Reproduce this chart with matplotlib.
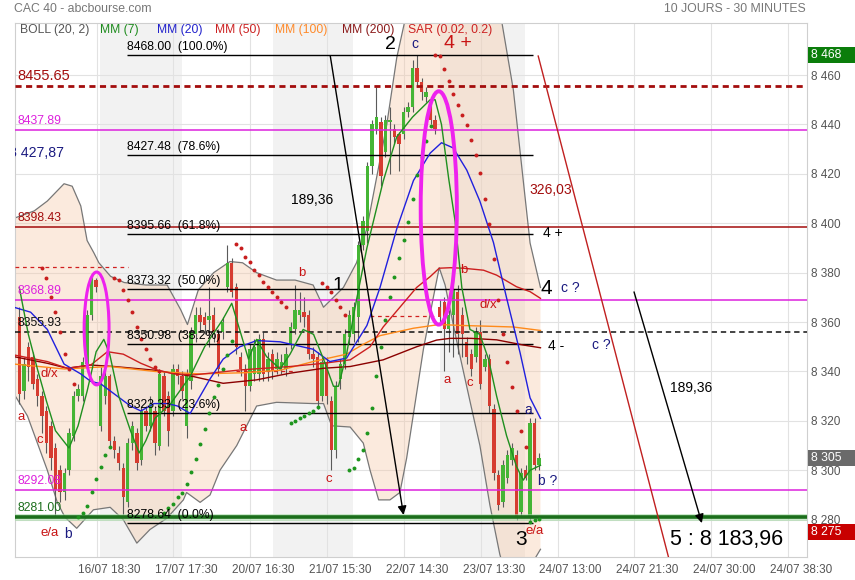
import matplotlib
matplotlib.use("Agg")
import matplotlib.pyplot as plt
import matplotlib.transforms as mtrans
from matplotlib.patches import Ellipse, Rectangle
from matplotlib.text import Text

plt.rcParams["font.family"] = ["Liberation Sans", "DejaVu Sans"]

# ── Candles (30 min bars, index 0..115) ───────────────────────────────────────
opens = [8362, 8332, 8350, 8346, 8337, 8330, 8324, 8318, 8309, 8300,
         8291, 8300, 8314, 8330, 8330, 8343, 8363, 8377, 8318, 8330,
         8338, 8312, 8307, 8301, 8287, 8311, 8315, 8304, 8324, 8318,
         8324, 8310, 8338, 8330, 8324, 8341, 8338, 8318, 8336, 8355,
         8363, 8362, 8361, 8363, 8355, 8356, 8374, 8384, 8374, 8346,
         8341, 8334, 8339, 8339, 8353, 8340, 8347, 8341, 8342, 8341,
         8351, 8357, 8363, 8364, 8363, 8347, 8346, 8330, 8344, 8328,
         8308, 8337, 8343, 8354, 8355, 8362, 8391, 8397, 8423, 8438,
         8441, 8429, 8441, 8438, 8436, 8436, 8445, 8447, 8463, 8457,
         8451, 8449, 8442, 8366, 8368, 8357, 8363, 8372, 8363, 8352,
         8347, 8346, 8356, 8342, 8345, 8325, 8298, 8287, 8297, 8304,
         8306, 8283, 8300, 8281, 8319, 8302]
highs = [8366, 8346, 8352, 8348, 8339, 8332, 8326, 8320, 8311, 8302,
         8301, 8317, 8332, 8335, 8346, 8365, 8379, 8378, 8342, 8340,
         8339, 8314, 8310, 8303, 8313, 8320, 8317, 8326, 8326, 8330,
         8326, 8341, 8340, 8332, 8343, 8343, 8340, 8341, 8358, 8366,
         8366, 8364, 8374, 8366, 8357, 8362, 8391, 8386, 8376, 8348,
         8343, 8351, 8353, 8355, 8356, 8348, 8349, 8348, 8347, 8350,
         8360, 8375, 8372, 8370, 8365, 8350, 8348, 8346, 8346, 8330,
         8336, 8345, 8357, 8365, 8368, 8393, 8403, 8425, 8442, 8455,
         8443, 8444, 8447, 8440, 8437, 8447, 8449, 8466, 8468, 8459,
         8455, 8451, 8444, 8369, 8370, 8365, 8375, 8375, 8366, 8354,
         8349, 8358, 8361, 8347, 8347, 8327, 8300, 8304, 8308, 8311,
         8308, 8301, 8302, 8321, 8321, 8307]
lows = [8327, 8329, 8336, 8333, 8326, 8315, 8307, 8300, 8281, 8287,
        8288, 8298, 8312, 8328, 8328, 8341, 8361, 8372, 8316, 8327,
        8309, 8305, 8300, 8282, 8285, 8308, 8300, 8302, 8316, 8316,
        8306, 8308, 8322, 8310, 8322, 8335, 8329, 8313, 8333, 8352,
        8356, 8355, 8350, 8352, 8338, 8353, 8372, 8370, 8347, 8338,
        8324, 8332, 8336, 8336, 8336, 8336, 8337, 8339, 8339, 8338,
        8349, 8355, 8360, 8358, 8345, 8342, 8325, 8328, 8327, 8300,
        8305, 8333, 8341, 8351, 8352, 8352, 8389, 8392, 8420, 8436,
        8415, 8427, 8420, 8432, 8421, 8434, 8443, 8445, 8455, 8450,
        8449, 8440, 8436, 8360, 8340, 8348, 8346, 8347, 8346, 8343,
        8338, 8344, 8333, 8340, 8323, 8296, 8284, 8285, 8295, 8302,
        8280, 8281, 8296, 8279, 8300, 8300]
closes = [8331, 8343, 8342, 8335, 8330, 8322, 8311, 8305, 8292, 8291,
          8299, 8315, 8330, 8333, 8344, 8363, 8378, 8374, 8338, 8338,
          8312, 8308, 8303, 8289, 8311, 8318, 8303, 8324, 8318, 8327,
          8311, 8339, 8324, 8316, 8341, 8338, 8332, 8339, 8356, 8363,
          8360, 8359, 8362.5, 8356, 8341, 8360, 8384, 8372, 8350, 8341,
          8334, 8349, 8350, 8353, 8339, 8345, 8340, 8345, 8344, 8347,
          8358, 8365, 8365, 8362, 8347, 8345, 8328, 8344, 8330, 8308,
          8334, 8343, 8355, 8363, 8366, 8391, 8401, 8423, 8440, 8443,
          8419, 8442, 8442, 8435, 8432, 8445, 8447, 8463, 8457, 8453,
          8453, 8442, 8438, 8362, 8357, 8363, 8373, 8355, 8355, 8346,
          8341, 8356, 8335, 8345, 8326, 8299, 8286, 8302, 8306, 8309,
          8281, 8299, 8297, 8319, 8302, 8305]

# ── Moving averages (bar position, price) ────────────────────────────────────
ma7_x = [0, 2, 4, 6, 8, 11, 13, 15, 17, 18.7, 20, 22, 24.6, 26.5, 28, 30, 33.5,
         37.8, 41, 45, 47, 50.7, 52.5, 54.7, 57.7, 59.9, 62.8, 65.1, 67.3, 69.5,
         70.6, 72.4, 74.6, 76.9, 80.5, 83.5, 87, 90.9, 92, 93.4, 95, 96.4, 97.9,
         99.7, 101.9, 103.8, 105.6, 107.8, 110, 111.5, 113, 115.3]
ma7_y = [8374, 8355, 8341, 8328, 8316, 8309, 8318, 8332, 8348, 8353, 8347, 8330,
         8316, 8307, 8312, 8321, 8327, 8338, 8350, 8361, 8367.6, 8345, 8353, 8346,
         8341, 8347, 8357, 8355, 8345, 8334, 8334, 8347, 8369, 8390, 8417, 8435,
         8443, 8450, 8450, 8440, 8418, 8401, 8374, 8357, 8355, 8345, 8330, 8314,
         8301.5, 8296, 8300, 8302]
ma20_x = [-1.2, 2.5, 6.2, 9.9, 13.6, 15.8, 18, 20.2, 22.4, 24.6, 26.9, 29.8,
          32.8, 35, 37.8, 42.2, 45.1, 48.8, 52.5, 57.7, 65, 68.7, 72.4, 76.9,
          79.8, 83.5, 87.2, 90.9, 93.4, 96, 99, 101.9, 104.9, 107.8, 110.8, 113,
          115.3]
ma20_y = [8366, 8364, 8357, 8343, 8339, 8336, 8335, 8332, 8329, 8326, 8324, 8327,
          8327, 8326, 8323, 8337, 8345, 8350, 8352.5, 8352, 8349, 8344, 8345.4,
          8358.6, 8374, 8397.7, 8417.3, 8428.4, 8432.6, 8430.5, 8421.5, 8408.9,
          8392.2, 8369.8, 8347.5, 8329.3, 8321]
ma50_x = [-1.2, 6.2, 10.6, 15.8, 19.5, 23, 26.9, 30.5, 34.2, 38.6, 48.8, 59.9,
          67.3, 73.2, 77.6, 80.5, 84.2, 87.9, 90.9, 92.9, 95.3, 98.2, 102.7,
          105.6, 110, 113, 115.3]
ma50_y = [8346.7, 8344, 8341.3, 8342.6, 8348, 8347, 8343.3, 8340.6, 8339, 8338.6,
          8340.6, 8342, 8343.3, 8344.7, 8350, 8358, 8366, 8374, 8378.4, 8381.8,
          8382, 8381.8, 8381, 8379, 8374.3, 8372.3, 8369.6]
ma100_x = [-1.2, 10, 20, 30, 40, 50, 57.7, 65, 72.4, 76.1, 79.8, 87.2, 92.9,
           98.2, 104, 109.3, 115.3]
ma100_y = [8343, 8341, 8342, 8340, 8339, 8339.5, 8340.5, 8344, 8347, 8351,
           8354.5, 8357.5, 8359, 8358.6, 8358.3, 8358, 8356.6]
ma200_x = [-1.2, 6.2, 10.6, 15.8, 21, 30, 38.6, 45.1, 52.5, 59.9, 67.3, 73.2,
           80.5, 87.9, 92.3, 95.3, 100, 105.6, 111.5, 115.3]
ma200_y = [8346, 8343.3, 8341.3, 8342.6, 8342, 8340.5, 8337.9, 8335.2, 8336.6,
           8339.3, 8341.3, 8342, 8344.7, 8350, 8352.7, 8353.4, 8353.4, 8352.8,
           8350.7, 8349.6]

# ── Bollinger (20, 2) ─────────────────────────────────────────────────────────
boll_up_x = [-1.2, 3.3, 6.2, 9.9, 11.7, 13.6, 15, 16.5, 17.6, 20.2, 23.2, 28,
             32.7, 35.7, 37.2, 39.6, 43, 46.6, 49.4, 52.5, 56.9, 61, 65, 67.3,
             69.5, 71.7, 74.6, 76.9, 79.1, 81.3, 83.5, 85.3, 88, 95, 102, 106.7,
             109.3, 113, 115.3]
boll_up_y = [8402, 8405, 8409, 8416, 8415, 8407, 8393, 8388, 8384, 8378.5, 8376,
             8375, 8375, 8365, 8359, 8373, 8380, 8384.5, 8384, 8380, 8377, 8377,
             8375, 8366, 8370, 8374, 8384, 8398, 8419, 8440, 8467, 8482, 8505,
             8520, 8510, 8482, 8454, 8392, 8374]
boll_lo_x = [-1.2, 1.8, 6.2, 8.4, 10.1, 12.7, 16.4, 20.1, 23, 26, 28.9, 32.6,
             36.3, 37, 40, 42.2, 44.4, 48.1, 50.3, 52.5, 56.9, 65, 67.3, 69.1,
             73.2, 76.1, 77.6, 79.5, 82, 84.2, 85.7, 89.4, 91.6, 92.9, 94.2, 96.8,
             99.7, 101.9, 104.1, 106.3, 108, 110, 112, 114, 115.3]
boll_lo_y = [8331, 8322, 8300, 8287, 8281, 8276.5, 8284, 8285, 8280, 8270.5,
             8276, 8280.5, 8288, 8291, 8287, 8290, 8300, 8310, 8318, 8326, 8327.5,
             8327, 8327, 8318, 8317.5, 8311, 8300, 8288, 8288, 8291, 8305, 8349,
             8370, 8382, 8375, 8352, 8328, 8310, 8286, 8266, 8255, 8250, 8255,
             8264, 8268]

# ── Parabolic SAR (0.02, 0.2) ─────────────────────────────────────────────────
sar_red_x = (list(range(5, 13)) + list(range(21, 32)) + list(range(48, 60))
             + list(range(67, 73)) + list(range(92, 113)))
sar_red_y = [8382, 8378, 8370, 8364, 8356, 8347, 8341, 8335,
             8378, 8377, 8373, 8369, 8364, 8358, 8353, 8349, 8345, 8342, 8340,
             8391.5, 8390, 8386.5, 8384.5, 8381, 8379, 8376.4, 8374.3, 8372.3,
             8370.3, 8368.3, 8366,
             8375.7, 8374.3, 8372, 8369, 8366.2, 8362.9,
             8468.2, 8467.8, 8462.6, 8457.5, 8452.5, 8448, 8443.8, 8439.6, 8433.8,
             8427.7, 8420.5, 8410, 8399.8, 8385.4, 8369.1, 8355.2, 8344, 8333.9,
             8324, 8316, 8309.6]
sar_green_x = (list(range(13, 21)) + list(range(32, 48)) + list(range(60, 67))
               + list(range(73, 92)) + list(range(113, 116)))
sar_green_y = [8281.2, 8282.6, 8285.7, 8291.1, 8296.4, 8301.5, 8306, 8309.6,
               8282.6, 8284.6, 8286.3, 8289, 8290.9, 8294.3, 8299.4, 8304.7,
               8310.8, 8316.6, 8323.3, 8329.8, 8334.5, 8341, 8346.7, 8352.5,
               8319, 8320, 8321, 8322, 8323, 8324.1, 8325.5,
               8300, 8301, 8304.6, 8308.4, 8315, 8325.2, 8338, 8350, 8361, 8370,
               8378.4, 8386, 8393.2, 8400.6, 8410, 8419.5, 8427, 8433.4, 8439.5,
               8279.2, 8279.7, 8280.2]

# ── Drawn levels ──────────────────────────────────────────────────────────────
fib_levels = [8468.00, 8427.48, 8395.66, 8373.32, 8350.98, 8323.33, 8278.64]
fib_pcts = ["100.0%", "78.6%", "61.8%", "50.0%", "38.2%", "23.6%", "0.0%"]
fib_span = (23.8, 113.7)

level_vals = [8455.65, 8437.89, 8398.43, 8368.89, 8355.93, 8292.08, 8281.00]
level_colors = ["#a30d0d", "#dd22dd", "#a30d0d", "#dd22dd", "#111111", "#dd22dd", "#1b6e1b"]
level_styles = [(0, (2.2, 1.6)), "-", "-", "-", (0, (3.5, 2.5)), "-", "-"]
level_widths = [2.0, 1.1, 1.1, 1.1, 1.1, 1.1, 2.6]
level_fsizes = [10.5, 8.8, 8.8, 8.8, 8.8, 8.8, 8.8]

sar_stop_vals = [8382.2, 8340.0, 8362.6]
sar_stop_spans = [(-1, 24), (48, 61), (77.6, 92.4)]

day_bands = [(17.9, 36.0), (56.1, 73.8), (93.1, 111.9)]

xgrid_pos = [17.1, 34.1, 51.1, 68.1, 85.1, 102.1, 119.1, 136.1, 153.1, 170.1]
xgrid_labels = ["16/07 18:30", "17/07 17:30", "20/07 16:30", "21/07 15:30",
                "22/07 14:30", "23/07 13:30", "24/07 13:00", "24/07 21:30",
                "24/07 30:00", "24/07 38:30"]
ygrid_vals = [8280, 8300, 8320, 8340, 8360, 8380, 8400, 8420, 8440, 8460]

# diagonal projections: (x0, y0, x1, y1)
arrow_left = (68.8, 8467.7, 85.0, 8281.9)
arrow_right = (136.0, 8372.2, 151.0, 8278.6)
red_channel = (114.8, 8467.7, 143.6, 8265.0)

# wave annotations: (x, y, text, colour, size)
wave_labels = [
    (82.0, 8472.4, "2", "black", 14), (87.5, 8472.6, "c", "#1a1a80", 10),
    (97.0, 8472.6, "4 +", "#c81414", 14), (70.5, 8375.0, "1", "black", 14),
    (62.6, 8380.0, "b", "#c81414", 9.5), (98.4, 8381.0, "b", "#c81414", 9.5),
    (103.7, 8367.0, "d/x", "#c81414", 9.5), (6.6, 8339.0, "d/x", "#c81414", 9.5),
    (0.4, 8321.6, "a", "#c81414", 9.5), (4.6, 8312.4, "c", "#c81414", 9.5),
    (6.6, 8274.7, "e/a", "#c81414", 9.5), (10.8, 8274.0, "b", "#1a1a80", 10),
    (49.5, 8317.0, "a", "#c81414", 9.5), (68.5, 8296.5, "c", "#c81414", 9.5),
    (94.6, 8336.6, "a", "#c81414", 9.5), (99.7, 8335.3, "c", "#c81414", 9.5),
    (112.6, 8324.4, "a", "#1a1a80", 10), (116.9, 8295.7, "b ?", "#1a1a80", 10),
    (111.0, 8271.8, "3", "black", 15), (114.0, 8275.4, "e/a", "#c81414", 9.5),
    (116.6, 8373.4, "4", "black", 15), (121.8, 8373.8, "c ?", "#1a1a80", 10),
    (118.0, 8396.0, "4 +", "black", 10), (118.7, 8350.3, "4 -", "black", 10),
    (128.7, 8350.7, "c ?", "#1a1a80", 10), (64.8, 8409.4, "189,36", "black", 10),
    (148.6, 8333.3, "189,36", "black", 10), (117.6, 8413.5, "326,03", "#a30d0d", 10),
]

legend_items = [("BOLL (20, 2)", "#555555", 19.7), ("MM (7)", "#1e8c1e", 100),
                ("MM (20)", "#2222cc", 156.7), ("MM (50)", "#cc2222", 215),
                ("MM (100)", "#ff8a2a", 275), ("MM (200)", "#8b1a1a", 341.7),
                ("SAR (0.02, 0.2)", "#cc2222", 407.7)]

price_tags = [(8468, "8 468", "#0b7d0b"), (8305, "8 305", "#6a6a6a"), (8275, "8 275", "#c80000")]

W, H = 855, 580
fig = plt.figure(figsize=(W / 100, H / 100), dpi=100)
ax = fig.add_axes([14.7 / W, 23.3 / H, 792 / W, 534 / H])
ax.set_xlim(-1.02, 174.2)
ax.set_ylim(8265.0, 8481.2)

# grid, frame, day shading
ax.set_axisbelow(True)
ax.grid(color="#e2e2e2", lw=0.8)
for s in ax.spines.values():
    s.set_color("#cfcfcf")
    s.set_linewidth(0.8)
for a, b in day_bands:
    ax.axvspan(a, b, color="#f2f2f2", zorder=0.1, lw=0)

# Bollinger envelope
ax.fill(boll_up_x + boll_lo_x[::-1], boll_up_y + boll_lo_y[::-1],
        color="#f6c8a8", alpha=0.38, lw=0, zorder=1)
ax.plot(boll_up_x, boll_up_y, color="#777777", lw=0.9, zorder=1.5)
ax.plot(boll_lo_x, boll_lo_y, color="#777777", lw=0.9, zorder=1.5)

# candles
xs = list(range(len(closes)))
up = [c >= o for o, c in zip(opens, closes)]
ax.vlines(xs, lows, highs, color="#5a5a5a", lw=0.8, zorder=3)
bottoms = [min(o, c) for o, c in zip(opens, closes)]
heights = [max(abs(c - o), 0.6) for o, c in zip(opens, closes)]
ax.bar(xs, heights, bottom=bottoms, width=0.74,
       color=["#45b535" if u else "#d63c30" for u in up], zorder=3.2, lw=0)

# horizontal levels
for val, col, ls, lw, fs in zip(level_vals, level_colors, level_styles,
                                level_widths, level_fsizes):
    if val == 8281.00:
        ax.axhline(val, color="#a9dca9", lw=5, alpha=0.6, zorder=3.4)
    ax.axhline(val, color=col, ls=ls, lw=lw, zorder=3.5)
    ax.annotate(f"{val:.2f}", (-0.45, val), xytext=(0, 2), textcoords="offset points",
                color=col, fontsize=fs, va="bottom", ha="left", zorder=7)

for val, pct in zip(fib_levels, fib_pcts):
    ax.hlines(val, *fib_span, color="black", lw=1, zorder=3.5)
    ax.annotate(f"{val:.2f}  ({pct})", (fib_span[0], val), xytext=(0, 1.5),
                textcoords="offset points", fontsize=8.7, va="bottom", zorder=7)

for val, (a, b) in zip(sar_stop_vals, sar_stop_spans):
    ax.hlines(val, a, b, color="#d02020", lw=0.9, ls=(0, (3, 3)), zorder=3.5)

# moving averages
ax.plot(ma200_x, ma200_y, color="#8b0000", lw=1.0, zorder=4)
ax.plot(ma100_x, ma100_y, color="#ff8a1a", lw=1.0, zorder=4)
ax.plot(ma50_x, ma50_y, color="#cc1f1f", lw=1.0, zorder=4)
ax.plot(ma20_x, ma20_y, color="#2020dd", lw=1.0, zorder=4)
ax.plot(ma7_x, ma7_y, color="#1f8f1f", lw=1.0, zorder=4)

# SAR
ax.scatter(sar_red_x, sar_red_y, s=8, color="#c81e1e", zorder=5, lw=0)
ax.scatter(sar_green_x, sar_green_y, s=8, color="#1e961e", zorder=5, lw=0)

# ellipses
ax.add_patch(Ellipse((17.1, 8357.4), 5.5, 45.7, fill=False, ec="#ee22ee", lw=2.2, zorder=6))
ax.add_patch(Ellipse((92.8, 8406.2), 8.0, 94.5, fill=False, ec="#ee22ee", lw=2.8, zorder=6))

# projections
for x0, y0, x1, y1 in (arrow_left, arrow_right):
    ax.annotate("", xy=(x1, y1), xytext=(x0, y0), zorder=6,
                arrowprops=dict(arrowstyle="-|>", color="black", lw=1,
                                mutation_scale=13, shrinkA=0, shrinkB=0))
ax.plot([red_channel[0], red_channel[2]], [red_channel[1], red_channel[3]],
        color="#c02020", lw=1, zorder=6)

for x, y, t, c, fs in wave_labels:
    ax.text(x, y, t, color=c, fontsize=fs, ha="center", va="center", zorder=7)
ax.text(144.0, 8272.0, "5 : 8 183,96", fontsize=15.5, ha="left", va="center", zorder=7)
ax.text(9.9, 8428.3, "8 427,87", color="#1a1a80", fontsize=10.2, ha="right",
        va="center", clip_on=True, zorder=7)

# axes ticks
ax.yaxis.tick_right()
ax.set_yticks(ygrid_vals)
ax.set_yticklabels([f"{v:,}".replace(",", " ") for v in ygrid_vals])
ax.set_xticks(xgrid_pos)
ax.set_xticklabels(xgrid_labels)
ax.tick_params(length=0, labelsize=8.5, labelcolor="#555555")
ax.tick_params(axis="y", pad=3.2)
ax.tick_params(axis="x", pad=5)
shift = mtrans.ScaledTranslation(13 / 100, 0, fig.dpi_scale_trans)
for lab in ax.get_xticklabels():
    lab.set_transform(lab.get_transform() + shift)

# legend row and headers
for txt, col, px in legend_items:
    fig.text(px / W, 1 - 30 / H, txt, color=col, fontsize=8.7, va="center")
fig.text(14 / W, 1 - 8.5 / H, "CAC 40 - abcbourse.com", color="#777777", fontsize=8.8, va="center")
fig.text(806 / W, 1 - 8.5 / H, "10 JOURS - 30 MINUTES", color="#777777", fontsize=8.8,
         va="center", ha="right")

# price tags on the right
tag_tr = mtrans.blended_transform_factory(fig.transFigure, ax.transData)
for val, txt, col in price_tags:
    fig.add_artist(Rectangle((808 / W, val - 3.3), 47 / W, 6.6, transform=tag_tr,
                             color=col, lw=0, zorder=10))
    fig.add_artist(Text(811 / W, val, txt, transform=tag_tr, color="white",
                        fontsize=8.7, va="center", zorder=11))

fig.savefig("out.png", dpi=100)
